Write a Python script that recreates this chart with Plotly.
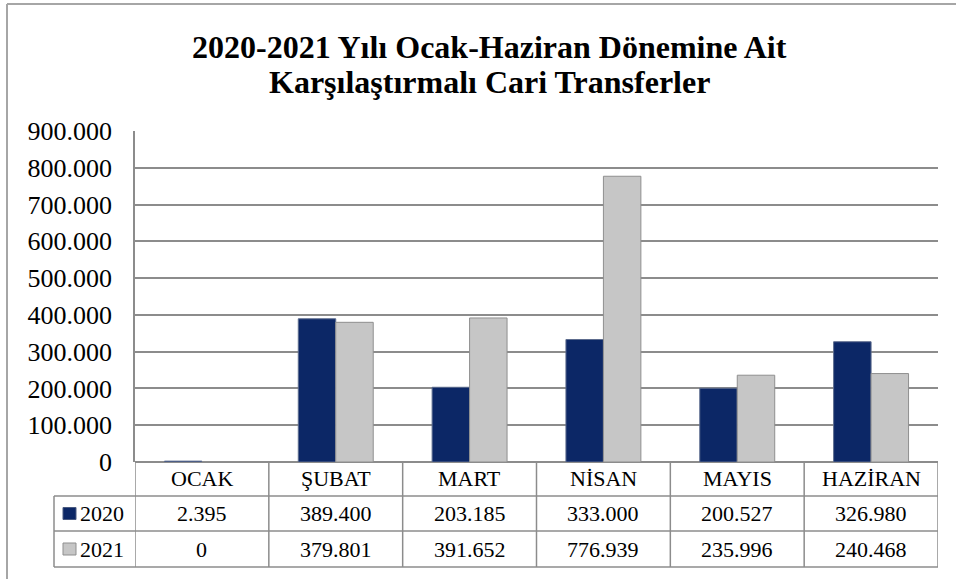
import plotly.graph_objects as go

# ---- data ----
months = ["OCAK", "ŞUBAT", "MART", "NİSAN", "MAYIS", "HAZİRAN"]
series_names = ["2020", "2021"]
values_2020 = [2395, 389400, 203185, 333000, 200527, 326980]
values_2021 = [0, 379801, 391652, 776939, 235996, 240468]
y_ticks = [0, 100000, 200000, 300000, 400000, 500000, 600000, 700000, 800000, 900000]

title_lines = ["2020-2021 Yılı Ocak-Haziran Dönemine Ait", "Karşılaştırmalı Cari Transferler"]

W, H = 956, 579
ML, MR, MT, MB = 135, 18, 131, 117
PW = W - ML - MR
PH = H - MT - MB

def px(x):
    return (x - ML) / PW

def py(y):
    return (H - MB - y) / PH

def fmt(v):
    return f"{v:,}".replace(",", ".")

FONT = "Liberation Serif"
COL_2020 = "#0c2766"
COL_2021 = "#c6c6c6"
GRID = "#8c8c8c"
TFS = 22

fig = go.Figure()
fig.add_trace(go.Bar(x=months, y=values_2020, name=series_names[0],
                     marker=dict(color=COL_2020, line=dict(color="#5d6c8e", width=1))))
fig.add_trace(go.Bar(x=months, y=values_2021, name=series_names[1],
                     marker=dict(color=COL_2021, line=dict(color="#8f8f8f", width=1))))

shapes = []
annotations = []

# frame
shapes.append(dict(type="line", xref="paper", yref="paper", x0=px(7), x1=px(W + 5), y0=py(4), y1=py(4),
                   line=dict(color="#a6a6a6", width=2)))
shapes.append(dict(type="line", xref="paper", yref="paper", x0=px(7), x1=px(7), y0=py(4), y1=py(H + 5),
                   line=dict(color="#a6a6a6", width=2)))

# table rows (pixel y)
row_top, row1, row2, row_bot = H - MB, 496, 531, 567
leg_left = 54
line_style = dict(color=GRID, width=1.5)

for yy in (row1, row2, row_bot):
    shapes.append(dict(type="line", xref="paper", yref="paper", x0=px(leg_left), x1=1,
                       y0=py(yy), y1=py(yy), line=line_style))
shapes.append(dict(type="line", xref="paper", yref="paper", x0=px(leg_left), x1=px(leg_left),
                   y0=py(row1), y1=py(row_bot), line=line_style))
for i in range(len(months) + 1):
    shapes.append(dict(type="line", xref="x", yref="paper", x0=i - 0.5, x1=i - 0.5,
                       y0=0, y1=py(row_bot), line=line_style))

def cell(x, xref, y, text, xanchor="center"):
    annotations.append(dict(x=x, xref=xref, y=y, yref="paper", text=text, xanchor=xanchor,
                            yanchor="middle", showarrow=False,
                            font=dict(family=FONT, size=TFS, color="#000")))

for i, m in enumerate(months):
    cell(m, "x", py((row_top + row1) / 2), m)
    cell(m, "x", py((row1 + row2) / 2), fmt(values_2020[i]))
    cell(m, "x", py((row2 + row_bot) / 2), fmt(values_2021[i]))

# legend keys in table
for (r0, r1), name, col, lc in [((row1, row2), series_names[0], COL_2020, "#4a5a80"),
                                ((row2, row_bot), series_names[1], COL_2021, "#8f8f8f")]:
    cy = (r0 + r1) / 2
    shapes.append(dict(type="rect", xref="paper", yref="paper", x0=px(63), x1=px(76),
                       y0=py(cy - 6), y1=py(cy + 6), fillcolor=col, line=dict(color=lc, width=1)))
    cell(px(78), "paper", py(cy), name, xanchor="left")

# title (two lines)
for text, yy in zip(title_lines, (47, 82)):
    annotations.append(dict(x=px(489), xref="paper", y=py(yy), yref="paper", text="<b>" + text + "</b>",
                            showarrow=False, yanchor="middle",
                            font=dict(family=FONT, size=32, color="#000")))

fig.update_layout(
    width=W, height=H,
    margin=dict(l=ML, r=MR, t=MT, b=MB),
    paper_bgcolor="white", plot_bgcolor="white",
    barmode="group", bargap=0.44, bargroupgap=0,
    showlegend=False,
    separators=",.",
    shapes=shapes, annotations=annotations,
    font=dict(family=FONT, color="#000"),
)
fig.update_xaxes(showticklabels=False, showgrid=False, zeroline=False, showline=False,
                 range=[-0.5, len(months) - 0.5])
fig.update_yaxes(range=[0, 900000], tickvals=y_ticks, tickformat=",d",
                 showgrid=True, gridcolor=GRID, gridwidth=1.5,
                 showline=True, linecolor=GRID, linewidth=1.5,
                 zeroline=True, zerolinecolor=GRID, zerolinewidth=1.5,
                 ticks="", ticklabelstandoff=16,
                 tickfont=dict(family=FONT, size=26, color="#000"))

fig.write_html("out.html", config={"displayModeBar": False},
               post_script="document.body.style.margin='0';document.body.style.overflow='hidden';")
